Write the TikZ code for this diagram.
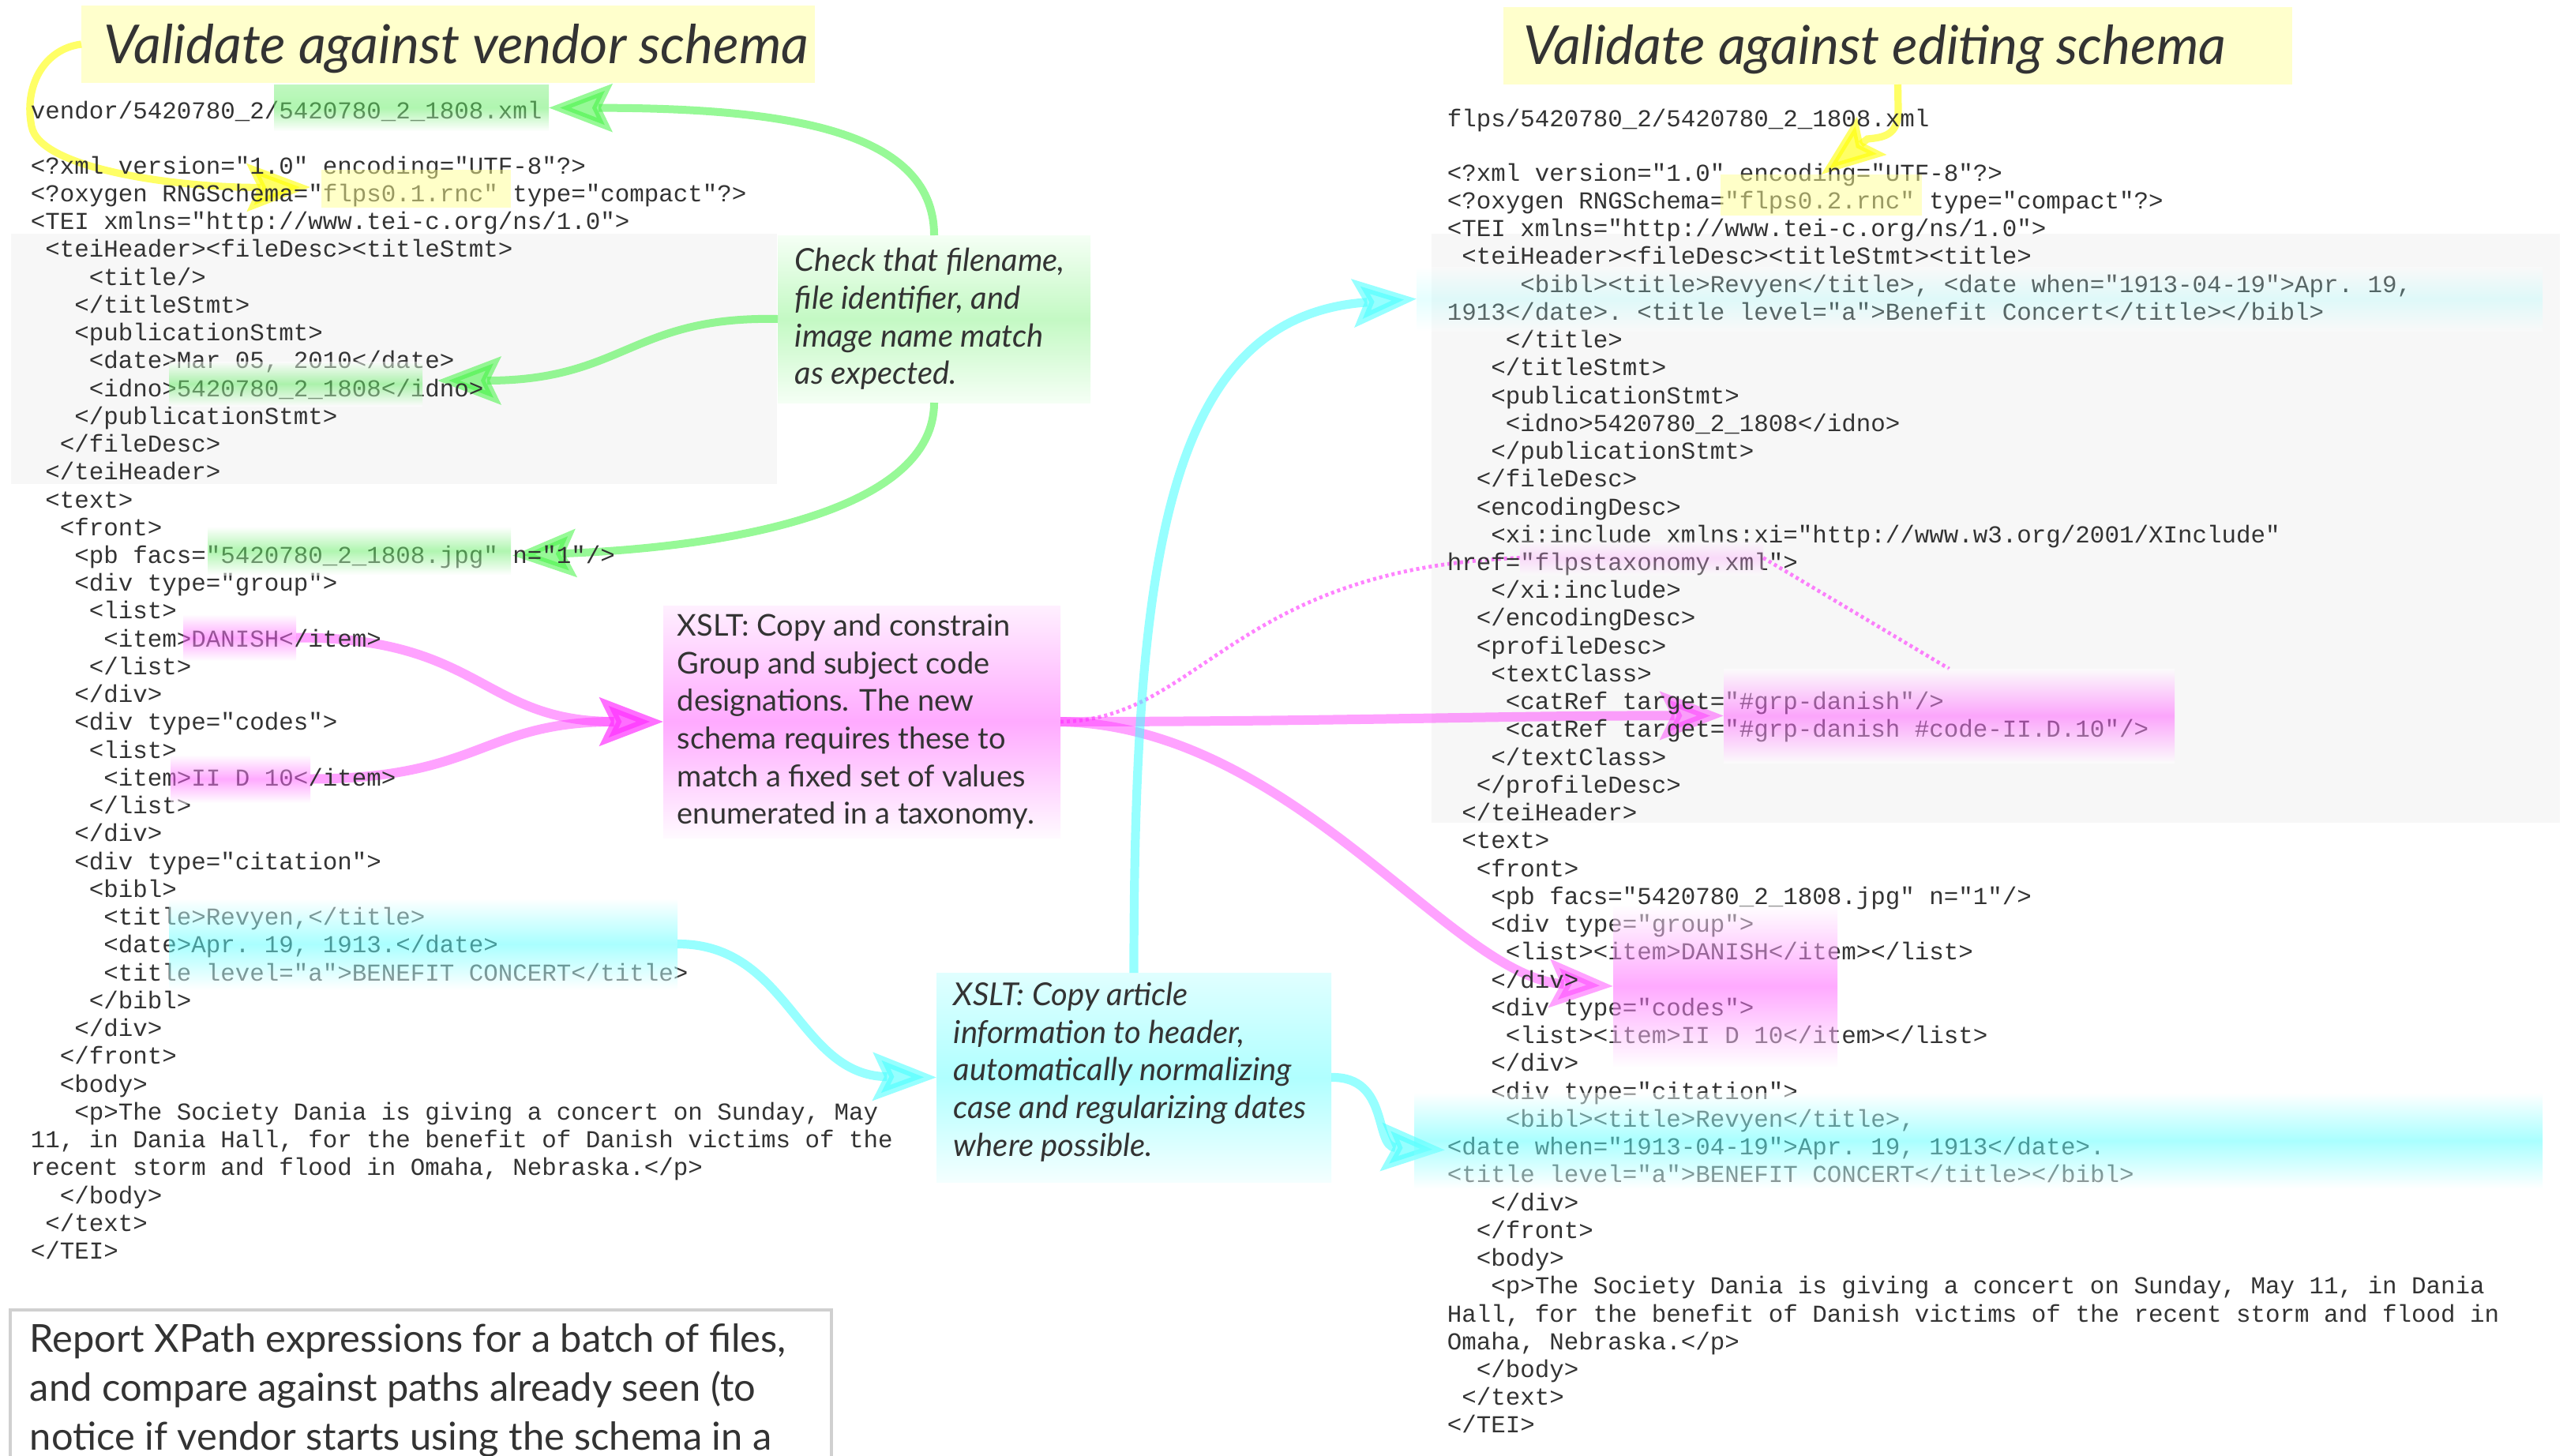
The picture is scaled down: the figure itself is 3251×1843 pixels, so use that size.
\documentclass[tikz,border=0pt]{standalone}
\usepackage{fontspec}
\setmainfont{Lato}
\setmonofont{Liberation Mono}
\usetikzlibrary{arrows.meta,calc}
\definecolor{txt}{HTML}{333333}
\definecolor{panelgray}{HTML}{F7F7F7}
\definecolor{titley}{HTML}{FFFFCC}
\definecolor{hlG}{HTML}{61ED61}
\definecolor{hlP}{HTML}{FF55FF}
\definecolor{hlC}{HTML}{55FFFF}
\definecolor{hlY}{HTML}{FFFF91}
\definecolor{arG}{HTML}{42F442}
\definecolor{arP}{HTML}{FF30FF}
\definecolor{arC}{HTML}{42FFFF}
\definecolor{arY}{HTML}{FFFF00}
\newcommand\pxbox[6]{\node[#2, inner sep=0pt, outer sep=0pt, anchor=north west, minimum width={(#5-#3)*0.25pt}, minimum height={(#6-#4)*0.25pt}] (#1) at (#3,#4)}
\newcommand\cL[4]{\node[code] (#1) at ({38+#2*18.5},{210+#3*35.24}) {#4};}
\newcommand\cR[4]{\node[code] (#1) at ({1832+#2*18.5},{219+#3*35.24}) {#4};}
\tikzset{
  code/.style={font=\ttfamily\fontsize{7.71}{8.8}\selectfont, text=txt, anchor=mid west, inner sep=0pt},
  panel/.style={fill=panelgray, draw=none},
  titlebox/.style={fill=titley, draw=none},
  titletext/.style={font=\fontsize{17}{20}\selectfont\itshape, text=txt, inner sep=0pt, anchor=west},
  prose/.style={font=\fontsize{9.5}{11.9}\selectfont, text=txt, align=left, inner sep=0pt, anchor=west},
  proseit/.style={prose, font=\fontsize{10}{11.9}\selectfont\itshape},
  hl/.style={fill opacity=.5, draw=none},
  hlg/.style={hl, top color=white, bottom color=white, middle color=hlG},
  hlgtop/.style={hl, top color=hlG!80!white, bottom color=white, middle color=hlG},
  hlp/.style={hl, top color=white, bottom color=white, middle color=hlP},
  hlpl/.style={hl, fill opacity=.3, top color=white, bottom color=white, middle color=hlP!60!white},
  hlc/.style={hl, top color=white, bottom color=white, middle color=hlC},
  hlcl/.style={hl, fill opacity=.25, top color=white, bottom color=white, middle color=hlC!60!white},
  hly/.style={hl, fill=hlY},
  chkbox/.style={draw=none, top color=green!4!white, bottom color=green!4!white, middle color={rgb,255:red,196;green,249;blue,196}},
  pinkbox/.style={draw=none, top color={rgb,255:red,255;green,240;blue,255}, bottom color={rgb,255:red,255;green,250;blue,255}, middle color={rgb,255:red,255;green,170;blue,255}},
  cyanbox/.style={draw=none, top color={rgb,255:red,224;green,255;blue,255}, bottom color={rgb,255:red,244;green,255;blue,255}, middle color={rgb,255:red,176;green,255;blue,255}},
  arr/.style={line width=2.8pt, -{Stealth[length=20pt,width=15pt,inset=3.5pt]}, opacity=.55},
  garr/.style={arr, arG, line width=2.5pt},
  parr/.style={arr, arP, opacity=.45, line width=3pt},
  carr/.style={arr, arC},
  yarr/.style={arr, arY, line width=2.3pt, opacity=.6},
  pdot/.style={arP, opacity=.6, line width=1.2pt, dash pattern=on 1pt off 1pt}
}
\begin{document}
\begin{tikzpicture}[x=0.25pt,y=-0.25pt]
\useasboundingbox (0,0) rectangle (3251,1843);
% panels
\pxbox{gL}{panel}{14}{296}{984}{613}{};
\pxbox{gR}{panel}{1813}{296}{3242}{1042}{};
% titles
\pxbox{t1}{titlebox}{103}{7}{1032}{105}{};
\node[titletext] (t1T) at ($(t1.west)+(28,6)$) {Validate against vendor schema};
\pxbox{t2}{titlebox}{1904}{9}{2903}{107}{};
\node[titletext] (t2T) at ($(t2.west)+(25,5)$) {Validate against editing schema};
% prose boxes
\pxbox{chk}{chkbox}{985}{298}{1381}{510}{};
\node[proseit] (chkT) at ($(chk.west)+(21,0)$) {Check that filename,\\file identifier, and\\image name match\\as expected.};
\pxbox{xs}{pinkbox}{840}{767}{1343}{1061}{};
\node[prose] (xsT) at ($(xs.west)+(17,0)$) {XSLT: Copy and constrain\\Group and subject code\\designations. The new\\schema requires these to\\match a fixed set of values\\enumerated in a taxonomy.};
\pxbox{cx}{cyanbox}{1186}{1232}{1686}{1497}{};
\node[proseit] (cxT) at ($(cx.west)+(21,-7)$) {XSLT: Copy article\\information to header,\\automatically normalizing\\case and regularizing dates\\where possible.};
\pxbox{rep}{draw={rgb,255:red,208;green,208;blue,208}, line width=1pt, fill=white}{13}{1659}{1053}{1900}{};
\node[anchor=north west, font=\fontsize{12.2}{15.5}\selectfont, align=left, text=txt, inner sep=0pt] (repT) at (37,1676) {Report XPath expressions for a batch of files,\\and compare against paths already seen (to\\notice if vendor starts using the schema in a};
% highlight geometry (overlays drawn at the end)
\pxbox{hp}{}{347}{107}{695}{166}{};
\pxbox{hy1}{}{407}{215}{647}{263}{};
\pxbox{hid}{}{214}{458}{535}{514}{};
\pxbox{hpb}{}{263}{667}{647}{728}{};
\pxbox{hd}{}{232}{778}{375}{837}{};
\pxbox{hi}{}{216}{956}{393}{1017}{};
\pxbox{hcl}{}{214}{1138}{858}{1253}{};
\pxbox{hy2}{}{2179}{221}{2434}{273}{};
\pxbox{hch}{}{1794}{338}{3220}{419}{};
\pxbox{htax}{}{1925}{685}{2233}{728}{};
\pxbox{hcat}{}{2183}{847}{2754}{966}{};
\pxbox{hdiv}{}{2043}{1146}{2327}{1352}{};
\pxbox{hcr}{}{1791}{1384}{3220}{1505}{};
% arrows
\draw[yarr] (t1.west) .. controls (55,62) and (30,110) .. (40,160) .. controls (50,215) and (230,238) .. ($(hy1.west)+(-14,-2)$);
\draw[yarr] (t2.south) -- (2404,140) .. controls (2404,172) and (2385,174) .. (2365,176) -- (hy2.north);
\draw[garr] (chk.north) .. controls (1183,160) and (980,137) .. (hp.east);
\draw[garr] (chk.west) .. controls (800,400) and (790,482) .. ($(hid.east)+(19,-4)$);
\draw[garr] (chk.south) .. controls (1183,640) and (950,692) .. ($(hpb.east)+(2,6)$);
\draw[parr] (hd.east) .. controls (610,807) and (610,914) .. (xs.west);
\draw[parr] (hi.east) .. controls (610,986) and (610,914) .. (xs.west);
\draw[parr] (xs.east) .. controls (1700,914) and (1900,906) .. (hcat.west);
\draw[pdot] (xs.east) .. controls (1520,912) and (1560,720) .. (htax.west);
\draw[pdot] (htax.east) -- (hcat.north);
\draw[parr] (xs.east) .. controls (1640,920) and (1840,1240) .. (hdiv.west);
\draw[carr] (hcl.east) .. controls (1000,1195) and (1010,1362) .. (cx.west);
\draw[carr] (cx.north) .. controls (1436,700) and (1480,400) .. (hch.west);
\draw[carr] (cx.east) .. controls (1760,1363) and (1740,1452) .. ($(hcr.west)+(39,12)$);
% left code
\node[code] (LP) at (38,140) {vendor/5420780\_2/5420780\_2\_1808.xml};
\cL{L0}{0}{0}{<?xml version="1.0" encoding="UTF-8"?>}
\cL{L1}{0}{1}{<?oxygen RNGSchema="flps0.1.rnc" type="compact"?>}
\cL{L2}{0}{2}{<TEI xmlns="http://www.tei-c.org/ns/1.0">}
\cL{L3}{1}{3}{<teiHeader><fileDesc><titleStmt>}
\cL{L4}{4}{4}{<title/>}
\cL{L5}{3}{5}{</titleStmt>}
\cL{L6}{3}{6}{<publicationStmt>}
\cL{L7}{4}{7}{<date>Mar 05, 2010</date>}
\cL{L8}{4}{8}{<idno>5420780\_2\_1808</idno>}
\cL{L9}{3}{9}{</publicationStmt>}
\cL{L10}{2}{10}{</fileDesc>}
\cL{L11}{1}{11}{</teiHeader>}
\cL{L12}{1}{12}{<text>}
\cL{L13}{2}{13}{<front>}
\cL{L14}{3}{14}{<pb facs="5420780\_2\_1808.jpg" n="1"/>}
\cL{L15}{3}{15}{<div type="group">}
\cL{L16}{4}{16}{<list>}
\cL{L17}{5}{17}{<item>DANISH</item>}
\cL{L18}{4}{18}{</list>}
\cL{L19}{3}{19}{</div>}
\cL{L20}{3}{20}{<div type="codes">}
\cL{L21}{4}{21}{<list>}
\cL{L22}{5}{22}{<item>II D 10</item>}
\cL{L23}{4}{23}{</list>}
\cL{L24}{3}{24}{</div>}
\cL{L25}{3}{25}{<div type="citation">}
\cL{L26}{4}{26}{<bibl>}
\cL{L27}{5}{27}{<title>Revyen,</title>}
\cL{L28}{5}{28}{<date>Apr. 19, 1913.</date>}
\cL{L29}{5}{29}{<title level="a">BENEFIT CONCERT</title>}
\cL{L30}{4}{30}{</bibl>}
\cL{L31}{3}{31}{</div>}
\cL{L32}{2}{32}{</front>}
\cL{L33}{2}{33}{<body>}
\cL{L34}{3}{34}{<p>The Society Dania is giving a concert on Sunday, May}
\cL{L35}{0}{35}{11, in Dania Hall, for the benefit of Danish victims of the}
\cL{L36}{0}{36}{recent storm and flood in Omaha, Nebraska.</p>}
\cL{L37}{2}{37}{</body>}
\cL{L38}{1}{38}{</text>}
\cL{L39}{0}{39}{</TEI>}
% right code
\node[code] (RP) at (1832,150) {flps/5420780\_2/5420780\_2\_1808.xml};
\cR{R0}{0}{0}{<?xml version="1.0" encoding="UTF-8"?>}
\cR{R1}{0}{1}{<?oxygen RNGSchema="flps0.2.rnc" type="compact"?>}
\cR{R2}{0}{2}{<TEI xmlns="http://www.tei-c.org/ns/1.0">}
\cR{R3}{1}{3}{<teiHeader><fileDesc><titleStmt><title>}
\cR{R4}{5}{4}{<bibl><title>Revyen</title>, <date when="1913-04-19">Apr. 19,}
\cR{R5}{0}{5}{1913</date>. <title level="a">Benefit Concert</title></bibl>}
\cR{R6}{4}{6}{</title>}
\cR{R7}{3}{7}{</titleStmt>}
\cR{R8}{3}{8}{<publicationStmt>}
\cR{R9}{4}{9}{<idno>5420780\_2\_1808</idno>}
\cR{R10}{3}{10}{</publicationStmt>}
\cR{R11}{2}{11}{</fileDesc>}
\cR{R12}{2}{12}{<encodingDesc>}
\cR{R13}{3}{13}{<xi:include xmlns:xi="http://www.w3.org/2001/XInclude"}
\cR{R14}{0}{14}{href="flpstaxonomy.xml">}
\cR{R15}{3}{15}{</xi:include>}
\cR{R16}{2}{16}{</encodingDesc>}
\cR{R17}{2}{17}{<profileDesc>}
\cR{R18}{3}{18}{<textClass>}
\cR{R19}{4}{19}{<catRef target="\#grp-danish"/>}
\cR{R20}{4}{20}{<catRef target="\#grp-danish \#code-II.D.10"/>}
\cR{R21}{3}{21}{</textClass>}
\cR{R22}{2}{22}{</profileDesc>}
\cR{R23}{1}{23}{</teiHeader>}
\cR{R24}{1}{24}{<text>}
\cR{R25}{2}{25}{<front>}
\cR{R26}{3}{26}{<pb facs="5420780\_2\_1808.jpg" n="1"/>}
\cR{R27}{3}{27}{<div type="group">}
\cR{R28}{4}{28}{<list><item>DANISH</item></list>}
\cR{R29}{3}{29}{</div>}
\cR{R30}{3}{30}{<div type="codes">}
\cR{R31}{4}{31}{<list><item>II D 10</item></list>}
\cR{R32}{3}{32}{</div>}
\cR{R33}{3}{33}{<div type="citation">}
\cR{R34}{4}{34}{<bibl><title>Revyen</title>,}
\cR{R35}{0}{35}{<date when="1913-04-19">Apr. 19, 1913</date>.}
\cR{R36}{0}{36}{<title level="a">BENEFIT CONCERT</title></bibl>}
\cR{R37}{3}{37}{</div>}
\cR{R38}{2}{38}{</front>}
\cR{R39}{2}{39}{<body>}
\cR{R40}{3}{40}{<p>The Society Dania is giving a concert on Sunday, May 11, in Dania}
\cR{R41}{0}{41}{Hall, for the benefit of Danish victims of the recent storm and flood in}
\cR{R42}{0}{42}{Omaha, Nebraska.</p>}
\cR{R43}{2}{43}{</body>}
\cR{R44}{1}{44}{</text>}
\cR{R45}{0}{45}{</TEI>}
% highlight overlays
\shade[hlgtop] (hp.north west) rectangle (hp.south east);
\fill[hly] (hy1.north west) rectangle (hy1.south east);
\shade[hlg] (hid.north west) rectangle (hid.south east);
\shade[hlg] (hpb.north west) rectangle (hpb.south east);
\shade[hlp] (hd.north west) rectangle (hd.south east);
\shade[hlp] (hi.north west) rectangle (hi.south east);
\shade[hlc] (hcl.north west) rectangle (hcl.south east);
\fill[hly] (hy2.north west) rectangle (hy2.south east);
\shade[hlcl] (hch.north west) rectangle (hch.south east);
\shade[hlpl] (htax.north west) rectangle (htax.south east);
\shade[hlp] (hcat.north west) rectangle (hcat.south east);
\shade[hlp] (hdiv.north west) rectangle (hdiv.south east);
\shade[hlc] (hcr.north west) rectangle (hcr.south east);
\end{tikzpicture}
\end{document}
